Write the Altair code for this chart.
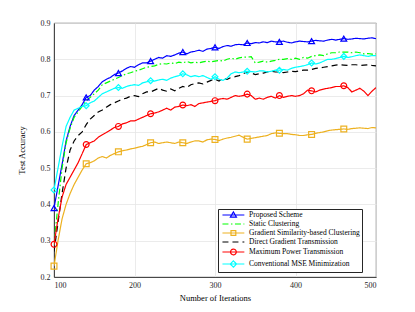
import altair as alt
import pandas as pd

iters = list(range(100, 501, 5))
marker_iters = list(range(100, 461, 40))

series = [
    "Proposed Scheme",
    "Static Clustering",
    "Gradient Similarity-based Clustering",
    "Direct Gradient Transmission",
    "Maximum Power Transmission",
    "Conventional MSE Minimization",
]

proposed = [
    0.39, 0.45, 0.51, 0.575, 0.615, 0.645, 0.66, 0.675, 0.695, 0.70,
    0.715, 0.725, 0.738, 0.745, 0.75, 0.758, 0.762, 0.768, 0.775, 0.78,
    0.778, 0.785, 0.79, 0.79, 0.795, 0.80, 0.805, 0.803, 0.81, 0.808,
    0.812, 0.817, 0.82, 0.815, 0.82, 0.822, 0.825, 0.822, 0.828, 0.83,
    0.833, 0.83, 0.835, 0.838, 0.836, 0.84, 0.841, 0.84, 0.845, 0.843,
    0.846, 0.845, 0.848, 0.846, 0.85, 0.848, 0.848, 0.85, 0.847, 0.845,
    0.848, 0.85, 0.849, 0.848, 0.85, 0.852, 0.851, 0.85, 0.853, 0.855,
    0.853, 0.855, 0.857, 0.855, 0.856, 0.858, 0.857, 0.856, 0.858, 0.859,
    0.857,
]
static = [
    0.29, 0.40, 0.50, 0.57, 0.61, 0.64, 0.655, 0.67, 0.685, 0.695,
    0.705, 0.715, 0.73, 0.735, 0.74, 0.745, 0.75, 0.755, 0.76, 0.763,
    0.767, 0.77, 0.774, 0.778, 0.78, 0.782, 0.786, 0.788, 0.787, 0.79,
    0.788, 0.792, 0.79, 0.794, 0.79, 0.792, 0.79, 0.793, 0.795, 0.793,
    0.795, 0.797, 0.795, 0.80, 0.803, 0.80, 0.804, 0.806, 0.806, 0.807,
    0.79, 0.792, 0.795, 0.792, 0.795, 0.797, 0.80, 0.80, 0.802, 0.80,
    0.803, 0.80, 0.805, 0.803, 0.808, 0.81, 0.812, 0.81, 0.815, 0.818,
    0.818, 0.82, 0.82, 0.82, 0.818, 0.82, 0.818, 0.815, 0.816, 0.814,
    0.815,
]
similarity = [
    0.23, 0.30, 0.36, 0.40, 0.43, 0.455, 0.475, 0.495, 0.512, 0.515,
    0.52, 0.528, 0.532, 0.528, 0.535, 0.54, 0.545, 0.548, 0.55, 0.553,
    0.555, 0.558, 0.56, 0.565, 0.57, 0.572, 0.568, 0.57, 0.572, 0.57,
    0.568, 0.572, 0.57, 0.568, 0.572, 0.575, 0.575, 0.572, 0.578, 0.58,
    0.579, 0.576, 0.58, 0.583, 0.585, 0.588, 0.591, 0.585, 0.58, 0.582,
    0.584, 0.586, 0.588, 0.59, 0.595, 0.597, 0.596, 0.595, 0.595, 0.593,
    0.592, 0.59, 0.59, 0.592, 0.593, 0.596, 0.598, 0.60, 0.603, 0.605,
    0.606, 0.607, 0.608, 0.607, 0.609, 0.61, 0.611, 0.61, 0.609, 0.612,
    0.611,
]
direct = [
    0.27, 0.35, 0.43, 0.50, 0.55, 0.575, 0.59, 0.60, 0.62, 0.635,
    0.645, 0.655, 0.66, 0.668, 0.675, 0.68, 0.685, 0.69, 0.693, 0.698,
    0.70, 0.697, 0.705, 0.71, 0.71, 0.715, 0.72, 0.715, 0.712, 0.718,
    0.713, 0.72, 0.725, 0.722, 0.73, 0.733, 0.735, 0.732, 0.737, 0.742,
    0.745, 0.74, 0.748, 0.745, 0.75, 0.752, 0.755, 0.76, 0.766, 0.762,
    0.758, 0.76, 0.762, 0.765, 0.767, 0.765, 0.765, 0.763, 0.765, 0.767,
    0.766, 0.768, 0.77, 0.77, 0.772, 0.775, 0.776, 0.778, 0.78, 0.782,
    0.784, 0.785, 0.784, 0.783, 0.785, 0.785, 0.783, 0.784, 0.785, 0.783,
    0.782,
]
max_power = [
    0.29, 0.36, 0.42, 0.455, 0.475, 0.495, 0.515, 0.54, 0.565, 0.57,
    0.575, 0.585, 0.592, 0.598, 0.605, 0.612, 0.615, 0.622, 0.625, 0.63,
    0.63, 0.635, 0.64, 0.645, 0.65, 0.652, 0.655, 0.66, 0.665, 0.66,
    0.668, 0.67, 0.674, 0.672, 0.675, 0.67, 0.678, 0.68, 0.682, 0.684,
    0.686, 0.69, 0.692, 0.69, 0.695, 0.70, 0.698, 0.70, 0.704, 0.70,
    0.69, 0.693, 0.69, 0.695, 0.698, 0.693, 0.70, 0.695, 0.698, 0.70,
    0.698, 0.70, 0.705, 0.715, 0.713, 0.71, 0.715, 0.718, 0.72, 0.722,
    0.725, 0.725, 0.727, 0.722, 0.71, 0.715, 0.72, 0.712, 0.70, 0.712,
    0.722,
]
conventional = [
    0.44, 0.50, 0.56, 0.615, 0.64, 0.66, 0.665, 0.67, 0.672, 0.68,
    0.685, 0.695, 0.705, 0.71, 0.715, 0.72, 0.722, 0.72, 0.725, 0.728,
    0.73, 0.728, 0.735, 0.738, 0.741, 0.74, 0.743, 0.745, 0.742, 0.748,
    0.752, 0.755, 0.76, 0.757, 0.752, 0.755, 0.752, 0.755, 0.75, 0.745,
    0.752, 0.745, 0.742, 0.748, 0.76, 0.765, 0.763, 0.765, 0.767, 0.766,
    0.765, 0.768, 0.768, 0.765, 0.767, 0.77, 0.77, 0.772, 0.77, 0.775,
    0.778, 0.78, 0.782, 0.785, 0.79, 0.787, 0.79, 0.795, 0.80, 0.80,
    0.802, 0.805, 0.808, 0.805, 0.807, 0.81, 0.812, 0.81, 0.808, 0.81,
    0.81,
]

values = [proposed, static, similarity, direct, max_power, conventional]
colors = ["#0000FF", "#00FF00", "#EDB120", "#000000", "#FF0000", "#00FFFF"]
dashes = [[1, 0], [6, 2.5, 1.5, 2.5], [1, 0], [6, 4], [1, 0], [1, 0]]

marker_series = [series[0], series[2], series[4], series[5]]
marker_shapes = ["triangle-up", "square", "circle", "diamond"]
marker_colors = [colors[0], colors[2], colors[4], colors[5]]

# legend glyphs: a line segment with the series marker in its middle
legend_paths = [
    "M-3.65,0H3.65M0,-1.05L1.0,0.7L-1.0,0.7Z",
    "M-3.65,0H3.65",
    "M-3.65,0H3.65M-0.8,-0.8H0.8V0.8H-0.8Z",
    "M-3.65,0H3.65",
    "M-3.65,0H3.65M0.95,0A0.95,0.95 0 1,1 -0.95,0A0.95,0.95 0 1,1 0.95,0Z",
    "M-3.65,0H3.65M0,-1.05L1.05,0L0,1.05L-1.05,0Z",
]

rows = []
for name, vals in zip(series, values):
    for it, v in zip(iters, vals):
        rows.append({"iter": it, "acc": v, "series": name})
df = pd.DataFrame(rows)
df_pts = df[df["iter"].isin(marker_iters) & df["series"].isin(marker_series)]

FONT = "Liberation Serif"

x_enc = alt.X(
    "iter:Q",
    scale=alt.Scale(domain=[100, 500], nice=False),
    axis=alt.Axis(values=[100, 200, 300, 400, 500], title="Number of Iterations"),
)
y_enc = alt.Y(
    "acc:Q",
    scale=alt.Scale(domain=[0.2, 0.9], nice=False, zero=False),
    axis=alt.Axis(values=[0.2, 0.3, 0.4, 0.5, 0.6, 0.7, 0.8, 0.9], format=".1f",
                  title="Test Accuracy"),
)

lines = alt.Chart(df).mark_line(strokeWidth=1.2, clip=True).encode(
    x=x_enc,
    y=y_enc,
    color=alt.Color("series:N", scale=alt.Scale(domain=series, range=colors), legend=None),
    strokeDash=alt.StrokeDash("series:N", scale=alt.Scale(domain=series, range=dashes), legend=None),
)

points = alt.Chart(df_pts).mark_point(filled=False, size=34, strokeWidth=1.2, opacity=1).encode(
    x=x_enc,
    y=y_enc,
    color=alt.Color("series:N", scale=alt.Scale(domain=marker_series, range=marker_colors), legend=None),
    shape=alt.Shape("series:N", scale=alt.Scale(domain=marker_series, range=marker_shapes), legend=None),
)

leg = alt.Legend(
    orient="none", legendX=164, legendY=186, title=None,
    labelFont=FONT, labelFontSize=7.5, labelColor="#000000",
    symbolSize=36, symbolStrokeWidth=1.2, symbolOpacity=1,
    symbolFillColor="transparent", symbolOffset=9.4,
    strokeColor="#262626", fillColor="white", padding=2,
    rowPadding=0, labelOffset=11.6, cornerRadius=0,
)

legend_layer = alt.Chart(df).mark_point(filled=False, opacity=0).encode(
    x=x_enc,
    y=y_enc,
    color=alt.Color("series:N", scale=alt.Scale(domain=series, range=colors), legend=leg),
    strokeDash=alt.StrokeDash("series:N", scale=alt.Scale(domain=series, range=dashes), legend=leg),
    shape=alt.Shape("series:N", scale=alt.Scale(domain=series, range=legend_paths), legend=leg),
)

chart = alt.layer(lines, points, legend_layer).resolve_scale(
    color="independent", strokeDash="independent", shape="independent"
).resolve_legend(
    color="independent", strokeDash="independent", shape="independent"
).properties(
    width=322, height=254,
    autosize=alt.AutoSizeParams(type="none"),
    padding={"left": 46, "top": 15, "right": 31, "bottom": 34},
).configure_view(
    stroke="#262626", strokeWidth=0.8
).configure_axis(
    labelFont=FONT, titleFont=FONT, labelFontSize=8, titleFontSize=8.5,
    labelColor="#262626", titleColor="#000000", titleFontWeight="normal",
    domainColor="#262626", domainWidth=0.8, ticks=False,
    gridColor="#e6e6e6", gridWidth=0.8, labelPadding=4,
).configure_axisY(
    titlePadding=14
).configure_axisX(
    titlePadding=4
)

chart.save("out.html", embed_options={"renderer": "svg", "actions": False})
